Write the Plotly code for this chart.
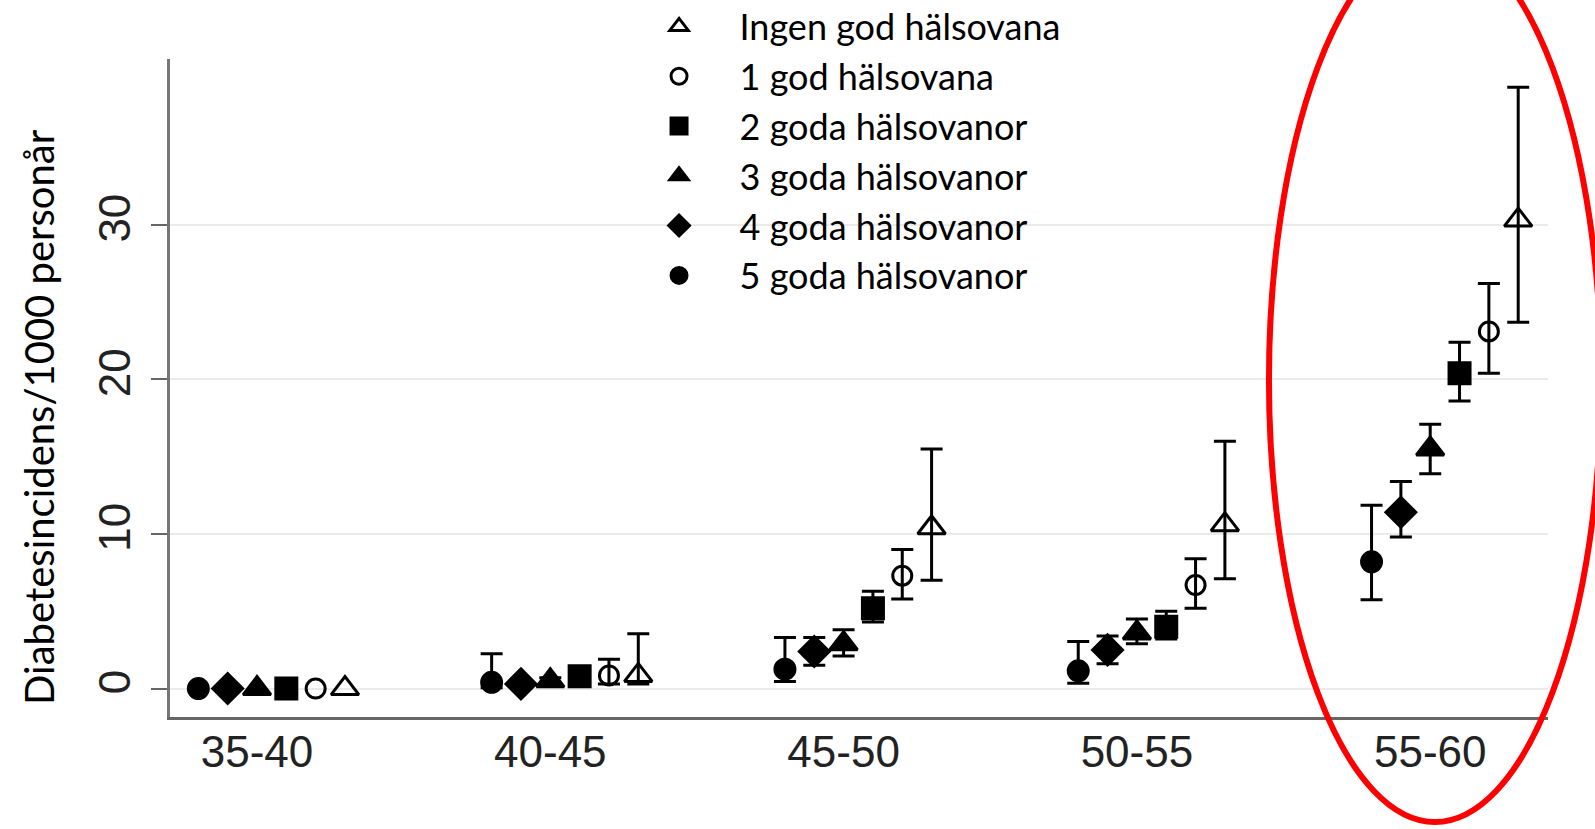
import plotly.graph_objects as go

# ---------------- data ----------------
age_groups = ["35-40", "40-45", "45-50", "50-55", "55-60"]

series_names = [
    "Ingen god hälsovana",
    "1 god hälsovana",
    "2 goda hälsovanor",
    "3 goda hälsovanor",
    "4 goda hälsovanor",
    "5 goda hälsovanor",
]

# incidence per 1000 person-years, with 95% CI (None = no interval drawn)
ingen_val = [0.0, 0.85, 10.4, 10.6, 30.3]
ingen_lo = [None, 0.3, 7.0, 7.1, 23.7]
ingen_hi = [None, 3.55, 15.5, 16.0, 38.9]

god1_val = [0.0, 0.85, 7.3, 6.7, 23.1]
god1_lo = [None, 0.3, 5.8, 5.2, 20.4]
god1_hi = [None, 1.9, 9.0, 8.4, 26.2]

god2_val = [0.0, 0.8, 5.2, 4.0, 20.4]
god2_lo = [None, 0.55, 4.3, 3.2, 18.6]
god2_hi = [None, 1.05, 6.3, 5.0, 22.4]

god3_val = [0.0, 0.5, 2.9, 3.6, 15.5]
god3_lo = [None, 0.35, 2.1, 2.9, 13.9]
god3_hi = [None, 0.7, 3.8, 4.5, 17.1]

god4_val = [0.0, 0.3, 2.4, 2.5, 11.4]
god4_lo = [None, 0.15, 1.5, 1.6, 9.8]
god4_hi = [None, 0.5, 3.3, 3.4, 13.4]

god5_val = [0.0, 0.4, 1.25, 1.15, 8.2]
god5_lo = [None, 0.05, 0.45, 0.35, 5.75]
god5_hi = [None, 2.25, 3.3, 3.05, 11.85]

y_ticks = [0, 10, 20, 30]

# ---------------- styles ----------------
styles = {
    "Ingen god hälsovana": dict(symbol="triangle-up-open", size=24, offset=0.3, rank=1),
    "1 god hälsovana": dict(symbol="circle-open", size=19, offset=0.2, rank=2),
    "2 goda hälsovanor": dict(symbol="square", size=21, offset=0.1, rank=3),
    "3 goda hälsovanor": dict(symbol="triangle-up", size=24, offset=0.0, rank=4),
    "4 goda hälsovanor": dict(symbol="diamond", size=23, offset=-0.1, rank=5),
    "5 goda hälsovanor": dict(symbol="circle", size=20, offset=-0.2, rank=6),
}

data = {
    "Ingen god hälsovana": (ingen_val, ingen_lo, ingen_hi),
    "1 god hälsovana": (god1_val, god1_lo, god1_hi),
    "2 goda hälsovanor": (god2_val, god2_lo, god2_hi),
    "3 goda hälsovanor": (god3_val, god3_lo, god3_hi),
    "4 goda hälsovanor": (god4_val, god4_lo, god4_hi),
    "5 goda hälsovanor": (god5_val, god5_lo, god5_hi),
}

fig = go.Figure()

for name in series_names:
    val, lo, hi = data[name]
    st = styles[name]
    xs = [i + st["offset"] for i in range(len(age_groups))]
    # "NaN" strings make plotly.js skip the error bar entirely (null would become 0)
    plus = ["NaN" if h is None else h - v for v, h in zip(val, hi)]
    minus = ["NaN" if l is None else v - l for v, l in zip(val, lo)]
    fig.add_trace(go.Scatter(
        x=xs, y=val, mode="markers", name=name, legendrank=st["rank"],
        marker=dict(symbol=st["symbol"], size=st["size"], color="black",
                    line=dict(color="black", width=3)),
        error_y=dict(type="data", symmetric=False, array=plus, arrayminus=minus,
                     color="black", thickness=3, width=11),
    ))

tick_font = dict(family="Liberation Sans, Arial, sans-serif", size=44, color="#222222")

fig.update_layout(
    width=1595, height=829,
    margin=dict(l=170, r=47, t=59, b=112, autoexpand=False),
    paper_bgcolor="white", plot_bgcolor="white",
    showlegend=True,
    legend=dict(
        x=0.3255, y=1.095, xanchor="left", yanchor="top",
        font=dict(family="Lato, Open Sans, sans-serif", size=36, color="black"),
        bgcolor="rgba(0,0,0,0)", itemwidth=111, itemsizing="trace",
    ),
    xaxis=dict(
        range=[-0.2966, 4.4016],
        tickmode="array", tickvals=list(range(len(age_groups))), ticktext=age_groups,
        showgrid=False, zeroline=False,
        showline=True, linecolor="#666666", linewidth=3,
        ticks="", tickfont=tick_font, ticklabelstandoff=-6,
    ),
    yaxis=dict(
        range=[-1.84, 40.72],
        tickmode="array", tickvals=y_ticks, ticktext=[str(t) for t in y_ticks],
        tickangle=-90,
        showgrid=True, gridcolor="#ebebeb", gridwidth=2,
        zeroline=False,
        showline=True, linecolor="#777777", linewidth=3,
        ticks="outside", ticklen=16, tickwidth=2, tickcolor="#666666",
        tickfont=tick_font, ticklabelstandoff=3,
    ),
    annotations=[dict(
        text="Diabetesincidens/1000 personår",
        xref="paper", yref="paper", x=-0.0951, y=0.456,
        xanchor="center", yanchor="middle", textangle=-90, showarrow=False,
        font=dict(family="Lato, Open Sans, sans-serif", size=40, color="black"),
    )],
    shapes=[dict(
        type="circle", xref="paper", yref="paper",
        x0=0.7975, x1=1.0385, y0=-0.1596, y1=1.1839,
        line=dict(color="#ff0000", width=6), layer="above",
    )],
)

# remove the browser's default 8px body margin so the figure fills the window exactly
fig.write_html("out.html",
               config={"displayModeBar": False},
               post_script="document.body.style.margin='0';document.body.style.overflow='hidden';")
